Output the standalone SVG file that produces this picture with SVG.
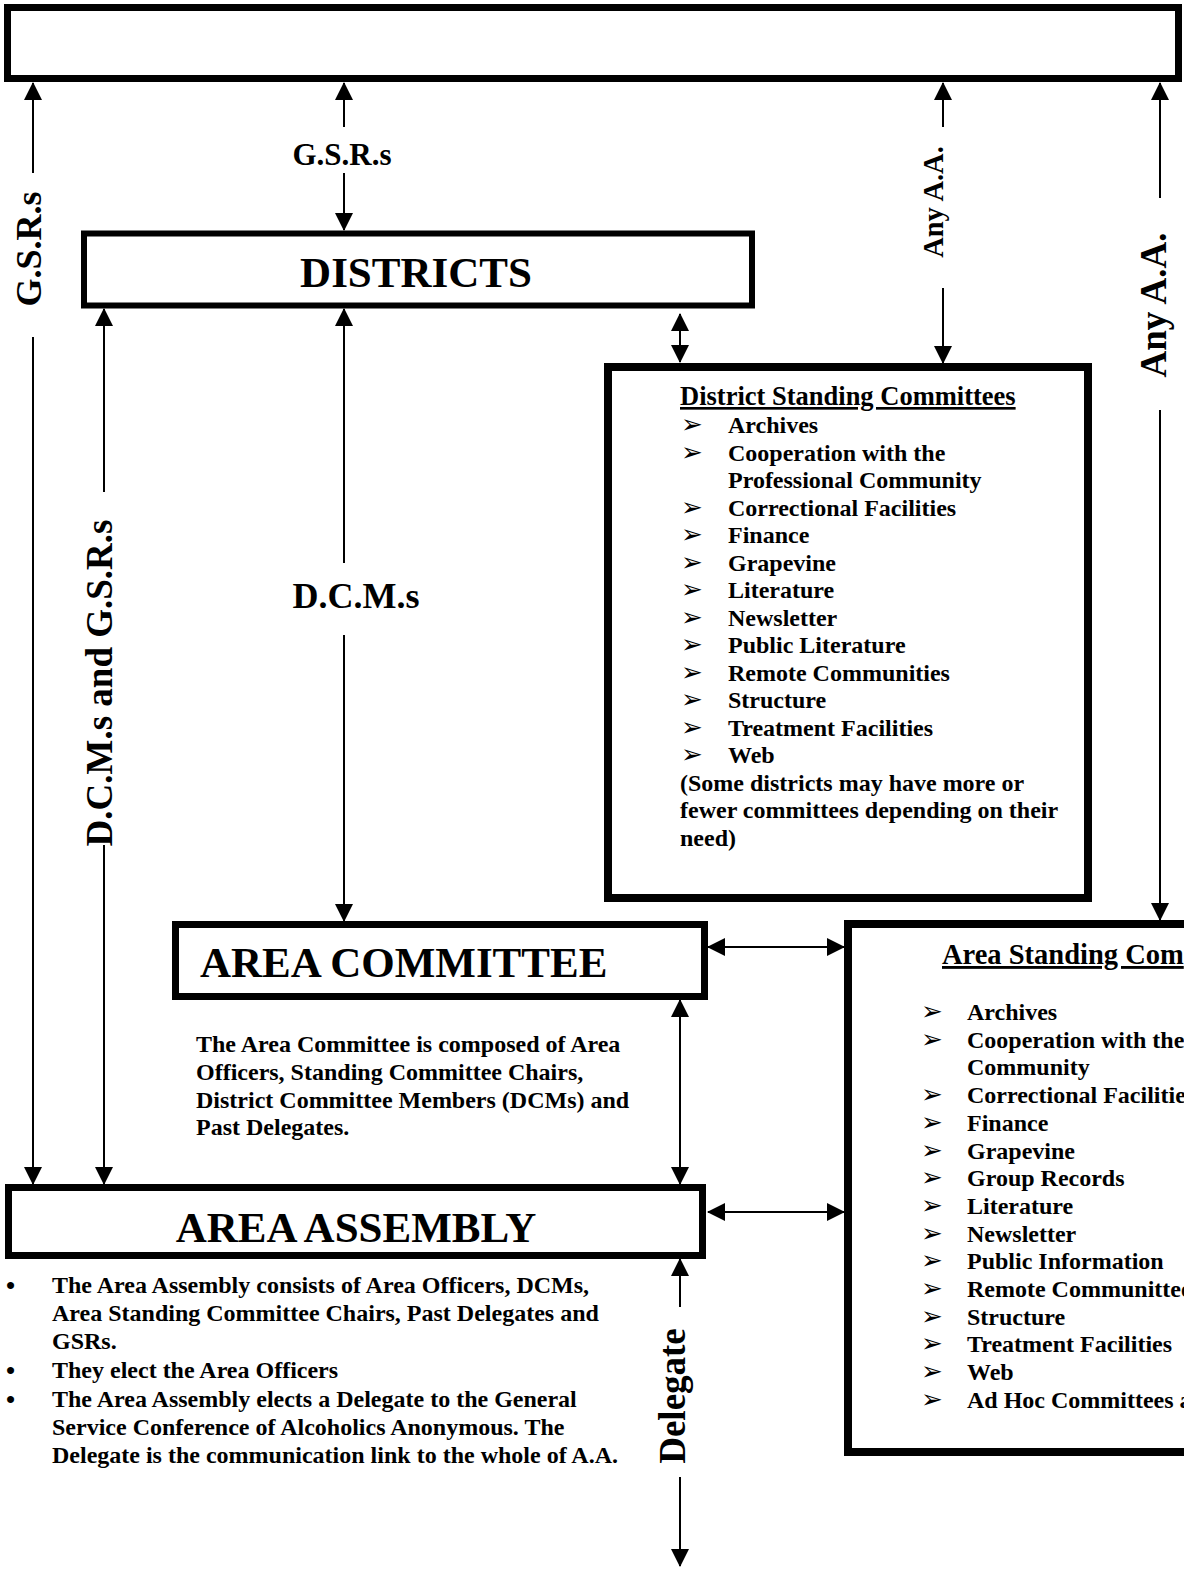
<svg xmlns="http://www.w3.org/2000/svg" width="1184" height="1570" viewBox="0 0 1184 1570">
<defs>
<style>
.box{fill:#fff;stroke:#000}
.ln{stroke:#000;stroke-width:2;fill:none}
.t{font-family:"Liberation Serif","Times New Roman",serif;font-weight:bold;fill:#000}
.b24{font-size:24px}
.h42{font-size:43px}
.bul{font-family:"DejaVu Sans",sans-serif;font-size:26px;fill:#000}
.u{text-decoration:underline}
</style>
<marker id="ah" viewBox="0 0 18 18" markerWidth="18" markerHeight="18" refX="17" refY="9" orient="auto-start-reverse" markerUnits="userSpaceOnUse"><path d="M0,0 L18,9 L0,18 z" fill="#000"/></marker>
</defs>
<rect width="1184" height="1570" fill="#fff"/>

<g id="top-box"><rect class="box" x="7.5" y="7.5" width="1171" height="71" stroke-width="7"/></g>

<g id="districts"><rect class="box" x="84" y="233.5" width="668" height="72" stroke-width="6"/>
<text class="t h42" x="416" y="287" text-anchor="middle">DISTRICTS</text></g>

<g id="district-standing-committees"><rect class="box" x="608" y="367" width="480" height="531" stroke-width="8"/>
<text class="t u" font-size="26.5" x="680" y="405">District Standing Committees</text>
<g class="bul"><text x="681" y="433">➢</text><text x="681" y="460.5">➢</text><text x="681" y="515.5">➢</text><text x="681" y="543">➢</text><text x="681" y="570.5">➢</text><text x="681" y="598">➢</text><text x="681" y="625.5">➢</text><text x="681" y="653">➢</text><text x="681" y="680.5">➢</text><text x="681" y="708">➢</text><text x="681" y="735.5">➢</text><text x="681" y="763">➢</text></g>
<g class="t b24">
<text x="728" y="433">Archives</text>
<text x="728" y="460.5">Cooperation with the</text>
<text x="728" y="488">Professional Community</text>
<text x="728" y="515.5">Correctional Facilities</text>
<text x="728" y="543">Finance</text>
<text x="728" y="570.5">Grapevine</text>
<text x="728" y="598">Literature</text>
<text x="728" y="625.5">Newsletter</text>
<text x="728" y="653">Public Literature</text>
<text x="728" y="680.5">Remote Communities</text>
<text x="728" y="708">Structure</text>
<text x="728" y="735.5">Treatment Facilities</text>
<text x="728" y="763">Web</text>
<text x="680" y="790.5">(Some districts may have more or</text>
<text x="680" y="818">fewer committees depending on their</text>
<text x="680" y="845.5">need)</text>
</g></g>

<g id="area-committee"><rect class="box" x="175.5" y="924.5" width="529" height="72" stroke-width="7"/>
<text class="t h42" x="200" y="977">AREA COMMITTEE</text>
<g class="t b24">
<text x="196" y="1052">The Area Committee is composed of Area</text>
<text x="196" y="1080">Officers, Standing Committee Chairs,</text>
<text x="196" y="1108">District Committee Members (DCMs) and</text>
<text x="196" y="1135">Past Delegates.</text>
</g></g>

<g id="area-standing-committees"><rect class="box" x="848" y="924" width="400" height="528" stroke-width="8"/>
<text class="t u" font-size="28.5" x="942" y="964">Area Standing Com</text>
<g class="bul"><text x="921" y="1020">➢</text><text x="921" y="1047.7">➢</text><text x="921" y="1103.1">➢</text><text x="921" y="1130.8">➢</text><text x="921" y="1158.5">➢</text><text x="921" y="1186.2">➢</text><text x="921" y="1213.9">➢</text><text x="921" y="1241.6">➢</text><text x="921" y="1269.3">➢</text><text x="921" y="1297">➢</text><text x="921" y="1324.7">➢</text><text x="921" y="1352.4">➢</text><text x="921" y="1380.1">➢</text><text x="921" y="1407.8">➢</text></g>
<g class="t b24">
<text x="967" y="1020">Archives</text>
<text x="967" y="1047.7">Cooperation with the</text>
<text x="967" y="1075.4">Community</text>
<text x="967" y="1103.1">Correctional Facilitie</text>
<text x="967" y="1130.8">Finance</text>
<text x="967" y="1158.5">Grapevine</text>
<text x="967" y="1186.2">Group Records</text>
<text x="967" y="1213.9">Literature</text>
<text x="967" y="1241.6">Newsletter</text>
<text x="967" y="1269.3">Public Information</text>
<text x="967" y="1297">Remote Communittee</text>
<text x="967" y="1324.7">Structure</text>
<text x="967" y="1352.4">Treatment Facilities</text>
<text x="967" y="1380.1">Web</text>
<text x="967" y="1407.8">Ad Hoc Committees a</text>
</g></g>

<g id="area-assembly"><rect class="box" x="8.5" y="1187.5" width="694" height="68" stroke-width="7"/>
<text class="t h42" x="356" y="1242" text-anchor="middle">AREA ASSEMBLY</text>
<g class="t" font-size="26"><text x="6" y="1294">•</text><text x="6" y="1379">•</text><text x="6" y="1408">•</text></g>
<g class="t b24">
<text x="52" y="1293">The Area Assembly consists of Area Officers, DCMs,</text>
<text x="52" y="1321">Area Standing Committee Chairs, Past Delegates and</text>
<text x="52" y="1349">GSRs.</text>
<text x="52" y="1378">They elect the Area Officers</text>
<text x="52" y="1407">The Area Assembly elects a Delegate to the General</text>
<text x="52" y="1435">Service Conference of Alcoholics Anonymous.  The</text>
<text x="52" y="1463">Delegate is the communication link to the whole of A.A.</text>
</g></g>

<g id="connectors">
<path class="ln" d="M33,83 V173" marker-start="url(#ah)"/>
<path class="ln" d="M33,337 V1184" marker-end="url(#ah)"/>
<text class="t" font-size="36" transform="translate(41,249) rotate(-90)" text-anchor="middle">G.S.R.s</text>

<path class="ln" d="M104,309 V492" marker-start="url(#ah)"/>
<path class="ln" d="M104,845 V1184" marker-end="url(#ah)"/>
<text class="t" font-size="37" transform="translate(112,683) rotate(-90)" text-anchor="middle">D.C.M.s and G.S.R.s</text>

<path class="ln" d="M344,83 V127" marker-start="url(#ah)"/>
<path class="ln" d="M344,173 V230" marker-end="url(#ah)"/>
<text class="t" font-size="31" x="342" y="165" text-anchor="middle">G.S.R.s</text>

<path class="ln" d="M344,309 V563" marker-start="url(#ah)"/>
<path class="ln" d="M344,635 V921" marker-end="url(#ah)"/>
<text class="t" font-size="36" x="356" y="608" text-anchor="middle">D.C.M.s</text>

<path class="ln" d="M680,314 V362" marker-start="url(#ah)" marker-end="url(#ah)"/>

<path class="ln" d="M943,83 V127" marker-start="url(#ah)"/>
<path class="ln" d="M943,288 V363" marker-end="url(#ah)"/>
<text class="t" font-size="28.5" transform="translate(943,202) rotate(-90)" text-anchor="middle">Any A.A.</text>

<path class="ln" d="M1160,83 V198" marker-start="url(#ah)"/>
<path class="ln" d="M1160,410 V920" marker-end="url(#ah)"/>
<text class="t" font-size="37" transform="translate(1166,305) rotate(-90)" text-anchor="middle">Any A.A.</text>

<path class="ln" d="M708,947 H844" marker-start="url(#ah)" marker-end="url(#ah)"/>
<path class="ln" d="M708,1212 H844" marker-start="url(#ah)" marker-end="url(#ah)"/>
<path class="ln" d="M680,1000 V1184" marker-start="url(#ah)" marker-end="url(#ah)"/>

<path class="ln" d="M680,1259 V1307" marker-start="url(#ah)"/>
<path class="ln" d="M680,1477 V1566" marker-end="url(#ah)"/>
<text class="t" font-size="37" transform="translate(685,1396) rotate(-90)" text-anchor="middle">Delegate</text>
</g>
</svg>
